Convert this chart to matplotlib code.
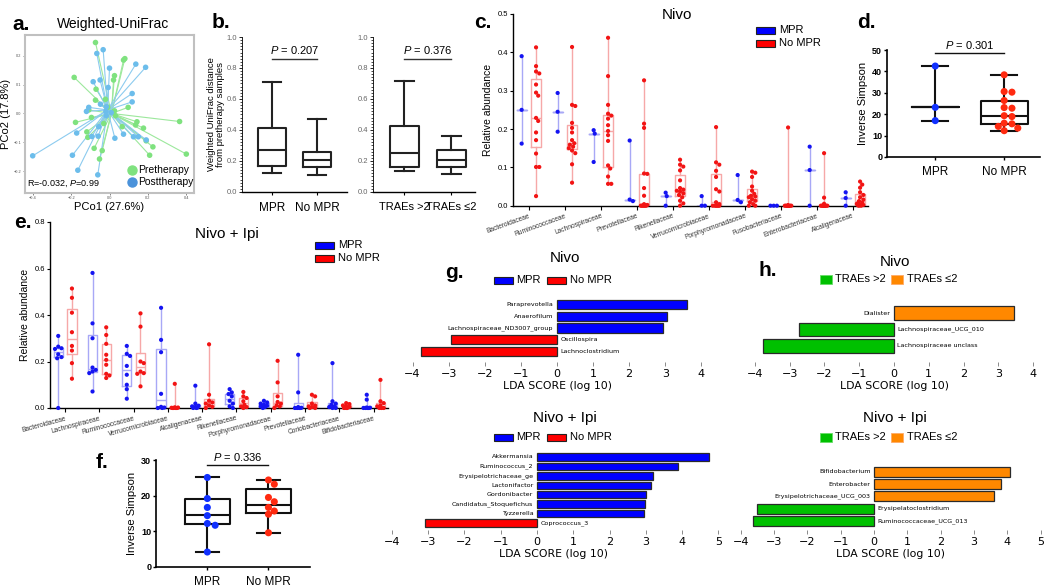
import numpy as np
import matplotlib
matplotlib.use('Agg')
import matplotlib.pyplot as plt
from matplotlib.patches import Rectangle
from matplotlib import cbook

plt.rcParams['font.family'] = ['Liberation Sans', 'DejaVu Sans']
plt.rcParams['mathtext.fontset'] = 'custom'
plt.rcParams['mathtext.it'] = 'Liberation Sans:italic'
plt.rcParams['mathtext.rm'] = 'Liberation Sans'

# ---------------- data ----------------
# a. PCoA (Weighted UniFrac)
pre_x = [-0.073, 0.073, 0.080, -0.184, 0.026, 0.021, -0.070, -0.021, 0.097, -0.073, -0.108, 0.031,
         -0.094, -0.177, 0.365, 0.143, 0.177, -0.030, -0.118, 0.066, 0.136, -0.113, 0.226, 0.209,
         -0.080, -0.038, -0.052, 0.400, 0.191, 0.026, -0.009]
pre_y = [0.246, 0.185, 0.190, 0.125, 0.131, 0.116, 0.084, 0.049, 0.021, 0.046, 0.012, -0.008,
         -0.014, -0.031, -0.028, -0.029, -0.051, -0.035, -0.064, -0.046, -0.040, -0.083, -0.116, -0.145,
         -0.121, -0.129, -0.158, -0.141, -0.095, 0.009, 0.021]
post_x = [-0.066, -0.033, 0.000, 0.137, 0.188, -0.085, -0.049, -0.007, 0.118, 0.118, -0.108, -0.120,
          -0.047, -0.017, -0.019, 0.009, -0.171, -0.056, -0.092, -0.059, 0.028, 0.073, 0.125, 0.150,
          0.191, -0.400, -0.193, -0.165, -0.061, -0.017]
post_y = [0.208, 0.221, 0.157, 0.171, 0.160, 0.110, 0.116, 0.090, 0.069, 0.040, 0.021, 0.007,
          0.032, 0.023, 0.007, 0.003, -0.068, -0.046, -0.080, -0.079, -0.086, -0.072, -0.081, -0.081,
          -0.092, -0.147, -0.145, -0.197, -0.213, -0.008]
pre_center = (0.010, 0.000)
post_center = (-0.010, 0.012)

# b. box stats (whislo, q1, med, q3, whishi)
b1_labels = ['MPR', 'No MPR']
b1_stats = [(0.125, 0.168, 0.270, 0.410, 0.707), (0.112, 0.160, 0.206, 0.258, 0.469)]
b1_p = 'P = 0.207'
b2_labels = ['TRAEs >2', 'TRAEs ≤2']
b2_stats = [(0.133, 0.163, 0.249, 0.424, 0.718), (0.114, 0.163, 0.204, 0.269, 0.359)]
b2_p = 'P = 0.376'

# c. Nivo relative abundance
c_categories = ['Bacteroidaceae', 'Ruminococcaceae', 'Lachnospiraceae', 'Prevotellaceae', 'Rikenellaceae',
                'Verrucomicrobiaceae', 'Porphyromonadaceae', 'Fusobacteriaceae', 'Enterobacteriaceae',
                'Alcaligenaceae']
c_mpr = [
    [0.390, 0.250, 0.162],
    [0.294, 0.245, 0.193],
    [0.197, 0.188, 0.114],
    [0.170, 0.016, 0.012],
    [0.034, 0.025, 0.000],
    [0.025, 0.000, 0.000],
    [0.080, 0.015, 0.009],
    [0.000, 0.000, 0.000],
    [0.154, 0.093, 0.000],
    [0.035, 0.020, 0.000],
]
c_nompr = [
    [0.413, 0.364, 0.350, 0.345, 0.316, 0.295, 0.287, 0.229, 0.221, 0.191, 0.171, 0.136, 0.101, 0.101, 0.025],
    [0.414, 0.263, 0.260, 0.216, 0.203, 0.191, 0.171, 0.163, 0.159, 0.154, 0.150, 0.144, 0.137, 0.108, 0.060],
    [0.438, 0.338, 0.263, 0.240, 0.235, 0.227, 0.210, 0.195, 0.184, 0.169, 0.105, 0.097, 0.076, 0.057, 0.057],
    [0.327, 0.214, 0.203, 0.084, 0.083, 0.046, 0.026, 0.004, 0.002, 0, 0, 0, 0, 0, 0],
    [0.120, 0.107, 0.102, 0.092, 0.066, 0.046, 0.042, 0.039, 0.037, 0.032, 0.028, 0.022, 0.013, 0.006, 0.000],
    [0.205, 0.113, 0.107, 0.091, 0.075, 0.043, 0.037, 0.009, 0.004, 0, 0, 0, 0, 0, 0],
    [0.089, 0.086, 0.075, 0.050, 0.039, 0.031, 0.026, 0.024, 0.022, 0.017, 0.013, 0.009, 0.004, 0, 0],
    [0.204, 0, 0, 0, 0, 0, 0, 0, 0, 0, 0, 0, 0, 0, 0],
    [0.137, 0.021, 0.005, 0, 0, 0, 0, 0, 0, 0, 0, 0, 0, 0, 0],
    [0.063, 0.055, 0.047, 0.035, 0.028, 0.022, 0.016, 0.012, 0.008, 0.005, 0.003, 0.002, 0.001, 0, 0],
]

# d. Nivo inverse Simpson
d_mpr = [42.5, 23.2, 17.0]
d_nompr = [38.4, 30.6, 30.3, 26.4, 22.8, 23.1, 18.9, 19.3, 15.5, 15.8, 14.3, 13.5, 12.3]
d_mpr_box = (17.0, 23.2, 23.2, 23.2, 42.5)
d_nompr_box = (12.3, 15.5, 19.3, 26.0, 38.4)
d_p = 'P = 0.301'

# e. Nivo + Ipi relative abundance
e_categories = ['Bacteroidaceae', 'Lachnospiraceae', 'Ruminococcaceae', 'Verrucomicrobiaceae', 'Alcaligenaceae',
                'Rikenellaceae', 'Porphyromonadaceae', 'Prevotellaceae', 'Coriobacteriaceae', 'Bifidobacteriaceae']
e_mpr = [
    [0.310, 0.264, 0.257, 0.254, 0.231, 0.219, 0.214, 0.000],
    [0.581, 0.364, 0.300, 0.174, 0.164, 0.157, 0.150, 0.071],
    [0.267, 0.233, 0.224, 0.181, 0.143, 0.100, 0.081, 0.040],
    [0.431, 0.293, 0.240, 0.061, 0.005, 0.002, 0.000, 0.000],
    [0.096, 0.019, 0.010, 0.007, 0.004, 0.002, 0.000, 0.000],
    [0.081, 0.067, 0.060, 0.050, 0.031, 0.019, 0.007, 0.000],
    [0.031, 0.024, 0.019, 0.014, 0.010, 0.007, 0.004, 0.000],
    [0.229, 0.067, 0.004, 0.001, 0.000, 0.000, 0.000, 0.000],
    [0.193, 0.029, 0.019, 0.014, 0.007, 0.004, 0.000, 0.000],
    [0.057, 0.036, 0.002, 0.001, 0.000, 0.000, 0.000, 0.000],
]
e_nompr = [
    [0.514, 0.474, 0.410, 0.326, 0.267, 0.247, 0.193, 0.126],
    [0.347, 0.314, 0.276, 0.229, 0.207, 0.186, 0.147, 0.140, 0.129],
    [0.407, 0.350, 0.200, 0.193, 0.157, 0.150, 0.147, 0.093],
    [0.104, 0.003, 0.002, 0.001, 0.000, 0.000, 0.000, 0.000],
    [0.274, 0.057, 0.031, 0.024, 0.019, 0.011, 0.005, 0.000],
    [0.069, 0.050, 0.043, 0.029, 0.014, 0.007, 0.004, 0.000],
    [0.203, 0.110, 0.050, 0.026, 0.019, 0.011, 0.007, 0.000],
    [0.057, 0.050, 0.019, 0.011, 0.007, 0.004, 0.000, 0.000],
    [0.021, 0.017, 0.011, 0.007, 0.004, 0.000, 0.000, 0.000],
    [0.121, 0.029, 0.021, 0.011, 0.007, 0.000, 0.000, 0.000],
]

# f. Nivo + Ipi inverse Simpson
f_mpr = [25.1, 19.2, 16.7, 14.4, 12.2, 11.7, 4.2]
f_nompr = [24.4, 23.2, 19.5, 18.3, 16.7, 15.7, 14.8, 9.6]
f_mpr_box = (4.2, 12.0, 14.5, 19.0, 25.1)
f_nompr_box = (9.6, 15.2, 17.5, 22.0, 24.4)
f_p = 'P = 0.336'

# g. LEfSe MPR vs No MPR
g1_taxa = ['Paraprevotella', 'Anaerofilum', 'Lachnospiraceae_ND3007_group', 'Oscillospira', 'Lachnoclostridium']
g1_lda = [3.60, 3.05, 2.95, -2.93, -3.78]
g2_taxa = ['Akkermansia', 'Ruminococcus_2', 'Erysipelotrichaceae_ge', 'Lactonifactor', 'Gordonibacter',
           'Candidatus_Stoquefichus', 'Tyzzerella', 'Coprococcus_3']
g2_lda = [4.73, 3.89, 3.20, 3.14, 3.00, 2.98, 2.96, -3.10]
# h. LEfSe TRAEs
h1_taxa = ['Dialister', 'Lachnospiraceae_UCG_010', 'Lachnospiraceae unclass']
h1_lda = [3.45, -2.73, -3.77]
h2_taxa = ['Bifidobacterium', 'Enterobacter', 'Erysipelotrichaceae_UCG_003', 'Erysipelatoclostridium',
           'Ruminococcaceae_UCG_013']
h2_lda = [4.07, 3.80, 3.60, -3.50, -3.63]

# ---------------- helpers ----------------
W, H = 1050, 588
fig = plt.figure(figsize=(10.5, 5.88), dpi=100)


def add_px(x0, y0, x1, y1):
    return fig.add_axes([x0 / W, 1 - y1 / H, (x1 - x0) / W, (y1 - y0) / H])


def ftext(x, y, s, **kw):
    return fig.text(x / W, 1 - y / H, s, **kw)


def frect(x0, y0, x1, y1, fc, ec='#222222', lw=0.8):
    fig.add_artist(Rectangle((x0 / W, 1 - y1 / H), (x1 - x0) / W, (y1 - y0) / H,
                             transform=fig.transFigure, fc=fc, ec=ec, lw=lw))


def swarm(vals, ypx, xpx, d, maxoff):
    vals = np.asarray(vals, float)
    placed = []
    offs = np.zeros(len(vals))
    step = d * 0.3
    cands = [0.0]
    k = 1
    while k * step <= maxoff * xpx + 1e-9:
        cands += [k * step, -k * step]
        k += 1
    for i in np.argsort(-vals, kind='stable'):
        yi = vals[i] * ypx
        best, bestd = 0.0, -1.0
        for c in cands:
            md = min([np.hypot(c - px, yi - py) for px, py in placed], default=1e9)
            if md >= d:
                best = c
                break
            if md > bestd:
                bestd, best = md, c
        placed.append((best, yi))
        offs[i] = best / xpx
    return offs


def stat_dict(t):
    return dict(whislo=t[0], q1=t[1], med=t[2], q3=t[3], whishi=t[4], fliers=[])


def letter(x, y, s):
    ftext(x, y, s, fontsize=15, fontweight='bold', ha='left', va='center')


# ---------------- a ----------------
ax = add_px(25, 35, 194, 193)
for xs, ys, cen, pc, lc in [(pre_x, pre_y, pre_center, '#7FE27F', '#9CE89C'),
                            (post_x, post_y, post_center, '#6CBDEB', '#8CCBEF')]:
    for x, y in zip(xs, ys):
        ax.plot([cen[0], x], [cen[1], y], color=lc, lw=0.8, zorder=1)
for xs, ys, pc in [(pre_x, pre_y, '#7FE27F'), (post_x, post_y, '#6CBDEB')]:
    ax.scatter(xs, ys, s=16, color=pc, edgecolors='none', zorder=3)
ax.set_xlim(-0.44, 0.44)
ax.set_ylim(-0.276, 0.272)
ax.set_xticks([-0.4, -0.2, 0.0, 0.2, 0.4])
ax.set_yticks([-0.2, -0.1, 0.0, 0.1, 0.2])
ax.tick_params(labelsize=2.8, length=1.5, width=0.5, pad=1, colors='#555555')
for s in ax.spines.values():
    s.set_color('#C0C0C0')
    s.set_linewidth(1.5)
ax.set_ylabel('PCo2 (17.8%)', fontsize=8, labelpad=2)
ax.set_xlabel('PCo1 (27.6%)', fontsize=8, labelpad=1)
ftext(113, 24, 'Weighted-UniFrac', fontsize=10, ha='center', va='center')
letter(12, 24, 'a.')
leg_ax_pts = [(132, 170, '#7FE27F', 'Pretherapy'), (132, 182, '#4A92DA', 'Posttherapy')]
for px, py, c, t in leg_ax_pts:
    fig.add_artist(plt.Line2D([px / W], [1 - py / H], marker='o', ms=6.5, color=c, transform=fig.transFigure))
    ftext(px + 6, py, t, fontsize=7.5, va='center', ha='left')
ftext(27, 184, 'R=-0.032, $\\mathit{P}$=0.99', fontsize=6.5, va='center', ha='left')

# ---------------- b ----------------
letter(212, 22, 'b.')
for box, stats, labels, ptxt, xlim, fs in [((242, 37, 347, 192), b1_stats, b1_labels, b1_p, (-0.67, 1.67), 8.5),
                                           ((373, 37, 475, 192), b2_stats, b2_labels, b2_p, (-0.67, 1.5), 8.0)]:
    ax = add_px(*box)
    lp = dict(color='#222222', lw=1.5)
    ax.bxp([stat_dict(s) for s in stats], positions=[0, 1], widths=0.62, showfliers=False,
           boxprops=lp, whiskerprops=lp, capprops=lp, medianprops=lp, capwidths=0.4)
    ax.set_xlim(*xlim)
    ax.set_ylim(0, 1.0)
    ax.set_yticks(np.arange(0, 1.01, 0.2))
    ax.set_yticklabels(['0.0', '0.2', '0.4', '0.6', '0.8', '1.0'])
    ax.set_yticks(np.arange(0, 1.001, 0.02), minor=True)
    ax.tick_params(axis='y', which='major', labelsize=5.5, labelcolor='#666666', length=2.5, width=0.6, pad=1)
    ax.tick_params(axis='y', which='minor', length=1.2, width=0.5)
    ax.set_xticks([0, 1])
    ax.set_xticklabels(labels, fontsize=fs)
    ax.tick_params(axis='x', length=2.5, width=0.8, pad=5)
    for s in ['top', 'right']:
        ax.spines[s].set_visible(False)
    ax.spines['left'].set_linewidth(0.6)
    ax.spines['bottom'].set_linewidth(1.0)
    ax.plot([0, 1], [0.855, 0.855], color='#333333', lw=1.0)
    ax.text(0.5, 0.875, '$\\mathit{P}$' + ptxt[1:], fontsize=8, ha='center', va='bottom')
    if stats is b1_stats:
        ax.set_ylabel('Weighted UniFrac distance\nfrom pretherapy samples', fontsize=6.8, labelpad=1,
                      linespacing=1.0)


# ---------------- c & e strip/box ----------------
def strip_panel(box, cats, mpr, nompr, ylim, yticks, ypx, xpx, title_xy, title, leg_xy, rot, mpr_flat):
    ax = add_px(*box)
    n = len(cats)
    blue_pts, red_pts = '#1414F2', '#F21414'
    blue_box, red_box = '#A8A8F6', '#F6A8A8'
    for i in range(n):
        for vals, off, bc, pc in [(mpr[i], -0.2, blue_box, blue_pts), (nompr[i], 0.2, red_box, red_pts)]:
            st = cbook.boxplot_stats(np.asarray(vals, float), whis=(0, 100))[0]
            st['fliers'] = []
            if mpr_flat and off < 0:
                st['q1'] = st['med']
                st['q3'] = st['med']
            lp = dict(color=bc, lw=1.0)
            ax.bxp([st], positions=[i + off], widths=0.27, showfliers=False, showcaps=False,
                   boxprops=lp, whiskerprops=lp, medianprops=lp, manage_ticks=False)
            xo = swarm(vals, ypx, xpx, 3.6, 0.11)
            ax.scatter(i + off + xo, vals, s=9, color=pc, edgecolors='none', zorder=4, clip_on=False)
    ax.set_xlim(-0.44, n - 1 + 0.42)
    ax.set_ylim(*ylim)
    ax.set_yticks(yticks)
    ax.set_yticklabels(['%.1f' % t for t in yticks])
    ax.tick_params(axis='y', labelsize=5.5, length=2.5, width=0.8, pad=1)
    ax.set_xticks(range(n))
    ax.set_xticklabels(cats, rotation=rot, ha='right', rotation_mode='anchor', fontsize=4.8, color='#333333')
    ax.tick_params(axis='x', length=3, width=0.8, pad=2)
    for s in ['top', 'right']:
        ax.spines[s].set_visible(False)
    ax.spines['left'].set_linewidth(1.0)
    ax.spines['bottom'].set_linewidth(1.0)
    ax.set_ylabel('Relative abundance', fontsize=7.5, labelpad=3)
    ftext(title_xy[0], title_xy[1], title, fontsize=11, ha='center', va='center')
    lx, ly = leg_xy
    frect(lx, ly - 3.5, lx + 19, ly + 3.5, '#0000FF', lw=0.8)
    frect(lx, ly + 9.5, lx + 19, ly + 16.5, '#FF0000', lw=0.8)
    ftext(lx + 23, ly, 'MPR', fontsize=8, va='center', ha='left')
    ftext(lx + 23, ly + 13, 'No MPR', fontsize=8, va='center', ha='left')
    return ax


strip_panel((513, 14, 868, 205.7), c_categories, c_mpr, c_nompr, (0, 0.5), [0, 0.1, 0.2, 0.3, 0.4, 0.5],
            382, 36, (677, 15), 'Nivo', (756, 30), 20, True)
letter(474, 23, 'c.')
strip_panel((50, 222, 388, 408), e_categories, e_mpr, e_nompr, (0, 0.8), [0, 0.2, 0.4, 0.6, 0.8],
            233.5, 34.3, (227, 234), 'Nivo + Ipi', (315, 245), 15, False)
letter(14, 222, 'e.')


# ---------------- d & f ----------------
def simpson_panel(box, mpr, nompr, mbox, nbox, xlim, ylim, yticks, ypx, xpx, ptxt, py, width):
    ax = add_px(*box)
    lp = dict(color='#111111', lw=1.5)
    ax.bxp([stat_dict(mbox), stat_dict(nbox)], positions=[0, 1], widths=width, showfliers=False,
           boxprops=lp, whiskerprops=lp, capprops=lp, medianprops=lp, capwidths=0.38)
    for vals, x0, c in [(mpr, 0, '#1030FF'), (nompr, 1, '#FF2A10')]:
        xo = swarm(vals, ypx, xpx, 6.5, 0.32)
        ax.scatter(x0 + xo, vals, s=26, color=c, edgecolors='none', zorder=4, clip_on=False)
    ax.set_xlim(*xlim)
    ax.set_ylim(*ylim)
    ax.set_yticks(yticks)
    ax.tick_params(axis='y', labelsize=6.5, length=2.5, width=1.0, pad=1)
    for lab in ax.get_yticklabels():
        lab.set_fontweight('bold')
    ax.set_xticks([0, 1])
    ax.set_xticklabels(['MPR', 'No MPR'], fontsize=8.5)
    ax.tick_params(axis='x', length=2.5, width=1.0, pad=4)
    for s in ['top', 'right']:
        ax.spines[s].set_visible(False)
    ax.spines['left'].set_linewidth(1.2)
    ax.spines['bottom'].set_linewidth(1.2)
    ax.set_ylabel('Inverse Simpson', fontsize=8, labelpad=3)
    ax.plot([0, 1], [py, py], color='#111111', lw=1.0, clip_on=False)
    ax.text(0.5, py + (ylim[1] - ylim[0]) * 0.025, '$\\mathit{P}$' + ptxt[1:], fontsize=8,
            ha='center', va='bottom')
    return ax


simpson_panel((887, 50, 1040, 157), d_mpr, d_nompr, d_mpr_box, d_nompr_box, (-0.7, 1.52), (0, 50),
              [0, 10, 20, 30, 40, 50], 2.14, 69, d_p, 48.5, 0.68)
letter(857, 22, 'd.')
simpson_panel((156, 460, 310, 567), f_mpr, f_nompr, f_mpr_box, f_nompr_box, (-0.84, 1.68), (0, 30),
              [0, 10, 20, 30], 3.57, 61, f_p, 28.5, 0.74)
letter(96, 463, 'f.')


# ---------------- g & h LEfSe ----------------
def lefse(box, taxa, lda, pos_c, neg_c, xlim, ylim, ticks, height):
    ax = add_px(*box)
    y = np.arange(len(taxa))
    cols = [pos_c if v > 0 else neg_c for v in lda]
    ax.barh(y, lda, height=height, color=cols, edgecolor='#2a2a2a', lw=0.9)
    for yi, v, t in zip(y, lda, taxa):
        if v > 0:
            ax.text(-0.1, yi, t, ha='right', va='center', fontsize=4.6, family='DejaVu Sans')
        else:
            ax.text(0.1, yi, t, ha='left', va='center', fontsize=4.6, family='DejaVu Sans')
    ax.set_xlim(*xlim)
    ax.set_ylim(*ylim)
    ax.set_yticks([])
    ax.set_xticks(ticks)
    ax.set_xticklabels(['\u2212%d' % -t if t < 0 else '%d' % t for t in ticks], family='DejaVu Sans',
                       fontsize=8)
    ax.tick_params(axis='x', length=3, width=0.6, color='#777777', pad=2)
    for s in ax.spines.values():
        s.set_visible(False)
    ax.set_xlabel('LDA SCORE (log 10)', fontsize=7.8, family='DejaVu Sans', labelpad=1.5)
    ax.patch.set_alpha(0)
    return ax


def lefse_legend(y, kind):
    if kind == 'mpr':
        frect(494, y - 3.5, 513, y + 3.5, '#0000FF', ec='#222222', lw=0.8)
        ftext(516, y, 'MPR', fontsize=8, va='center', ha='left')
        frect(547, y - 3.5, 566, y + 3.5, '#FF0000', ec='#222222', lw=0.8)
        ftext(570, y, 'No MPR', fontsize=8, va='center', ha='left')
    else:
        frect(820, y - 4.5, 832, y + 4.5, '#00C000', ec='#66DD66', lw=0.6)
        ftext(835, y, 'TRAEs >2', fontsize=8, va='center', ha='left')
        frect(891, y - 4.5, 903, y + 4.5, '#FF8800', ec='#FFAA66', lw=0.6)
        ftext(907, y, 'TRAEs ≤2', fontsize=8, va='center', ha='left')


lefse((405, 297, 710, 362), g1_taxa, g1_lda, '#0000FF', '#FF0000', (-4.21, 4.24), (4.89, -0.64),
      range(-4, 5), 0.8)
lefse((385, 450, 722, 530), g2_taxa, g2_lda, '#0000FF', '#FF0000', (-4.19, 5.1), (7.74, -0.74),
      range(-4, 6), 0.78)
lefse((745, 297, 1045, 362), h1_taxa, h1_lda, '#FF8800', '#00C000', (-4.28, 4.34), (2.97, -0.97),
      range(-4, 5), 0.8)
lefse((735, 460, 1045, 530), h2_taxa, h2_lda, '#FF8800', '#00C000', (-4.17, 5.13), (4.74, -0.98),
      range(-4, 6), 0.82)
ftext(565, 258, 'Nivo', fontsize=11, ha='center', va='center')
ftext(565, 418, 'Nivo + Ipi', fontsize=11, ha='center', va='center')
ftext(895, 262, 'Nivo', fontsize=11, ha='center', va='center')
ftext(895, 418, 'Nivo + Ipi', fontsize=11, ha='center', va='center')
lefse_legend(280, 'mpr')
lefse_legend(437, 'mpr')
lefse_legend(279, 'trae')
lefse_legend(437, 'trae')
letter(445, 272, 'g.')
letter(758, 271, 'h.')

fig.savefig('out.png', dpi=100)
